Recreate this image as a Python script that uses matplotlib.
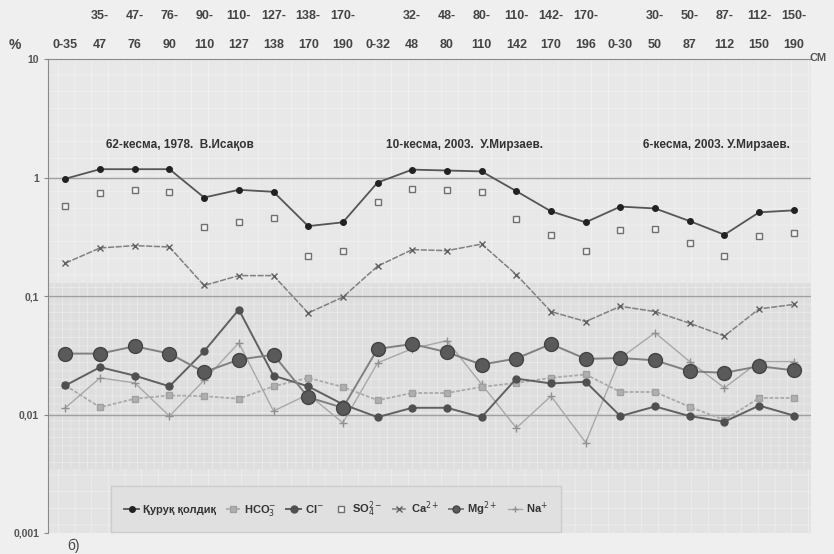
import numpy as np
import matplotlib.pyplot as plt
from matplotlib.transforms import blended_transform_factory

plt.rcParams['font.family'] = ['Liberation Sans', 'DejaVu Sans']

# глубина слоёв, см (верхняя строка / нижняя строка подписи)
depth_top = ['', '35-', '47-', '76-', '90-', '110-', '127-', '138-', '170-',
             '', '32-', '48-', '80-', '110-', '142-', '170-',
             '', '30-', '50-', '87-', '112-', '150-']
depth_bot = ['0-35', '47', '76', '90', '110', '127', '138', '170', '190',
             '0-32', '48', '80', '110', '142', '170', '196',
             '0-30', '50', '87', '112', '150', '190']

# содержание, %
quruq = [0.98, 1.18, 1.18, 1.18, 0.68, 0.79, 0.76, 0.39, 0.42, 0.91, 1.17,
         1.15, 1.13, 0.77, 0.52, 0.42, 0.57, 0.55, 0.43, 0.33, 0.51, 0.53]
hco3 = [0.0176, 0.0115, 0.0136, 0.0145, 0.0143, 0.0136, 0.0173, 0.0204, 0.0171,
        0.0132, 0.0152, 0.0152, 0.0171, 0.0185, 0.0204, 0.0218, 0.0155, 0.0155,
        0.0116, 0.0090, 0.0138, 0.0138]
cl = [0.0176, 0.0251, 0.0213, 0.0173, 0.0342, 0.0769, 0.0213, 0.0173, 0.0122,
      0.0095, 0.0114, 0.0114, 0.0095, 0.0201, 0.0183, 0.0189, 0.0097, 0.0117,
      0.0097, 0.0087, 0.0119, 0.0098]
so4 = [0.58, 0.74, 0.78, 0.76, 0.38, 0.42, 0.46, 0.22, 0.24, 0.62, 0.80,
       0.78, 0.76, 0.45, 0.33, 0.24, 0.36, 0.37, 0.28, 0.22, 0.32, 0.34]
ca = [0.19, 0.255, 0.267, 0.26, 0.123, 0.149, 0.149, 0.072, 0.098, 0.179, 0.247,
      0.242, 0.275, 0.152, 0.074, 0.061, 0.082, 0.074, 0.059, 0.046, 0.078, 0.085]
mg = [0.0327, 0.0327, 0.0377, 0.0327, 0.0228, 0.0291, 0.032, 0.014, 0.0114,
      0.0358, 0.0394, 0.0336, 0.0264, 0.0297, 0.0394, 0.0295, 0.030, 0.0287,
      0.0232, 0.0225, 0.0256, 0.0236]
na = [0.0114, 0.0204, 0.0185, 0.0097, 0.0195, 0.0403, 0.0107, 0.0148, 0.0085,
      0.0273, 0.036, 0.042, 0.018, 0.0077, 0.0143, 0.0058, 0.030, 0.049,
      0.028, 0.0168, 0.028, 0.028]

sections = ['62-кесма, 1978.  В.Исақов', '10-кесма, 2003.  У.Мирзаев.',
            '6-кесма, 2003. У.Мирзаев.']

x = np.arange(len(depth_bot))

fig = plt.figure(figsize=(8.34, 5.54), dpi=100, facecolor='#efefef')
ax = fig.add_axes([0.0576, 0.038, 0.915, 0.855])
ax.set_facecolor('#e6e6e6')
ax.set_yscale('log')
ax.set_ylim(0.001, 10)
ax.set_xlim(-0.5, 21.5)

# фон с мелкой сеткой
plt.rcParams['hatch.linewidth'] = 0.6
ax.axhspan(0.0035, 0.13, facecolor='#dedede', edgecolor='#eaeaea',
           hatch='++', lw=0, zorder=0)
ax.axhspan(0.13, 10, facecolor='#e8e8e8', edgecolor='#f1f1f1',
           hatch='+', lw=0, zorder=0)
ax.axhspan(0.001, 0.0035, facecolor='#e3e3e3', edgecolor='#eeeeee',
           hatch='+', lw=0, zorder=0)
for v in [1, 0.1, 0.01]:
    ax.axhline(v, color='#a0a0a0', lw=1.0, zorder=1)

ax.plot(x, quruq, color='#555555', lw=1.3, marker='o', ms=4,
        mfc='#222222', mec='#222222', label='Қуруқ қолдиқ', zorder=5)
ax.plot(x, hco3, color='#aaaaaa', lw=1.3, ls=(0, (2, 1)), marker='s', ms=5,
        mfc='#b0b0b0', mec='#a0a0a0', label='HCO$_3^{-}$', zorder=4)
ax.plot(x, cl, color='#606060', lw=1.4, marker='o', ms=5,
        mfc='#505050', mec='#505050', label='Cl$^{-}$', zorder=5)
ax.plot(x, so4, ls='none', marker='s', ms=5, mfc='#f2f2f2', mec='#707070',
        mew=1.0, label='SO$_4^{2-}$', zorder=5)
ax.plot(x, ca, color='#808080', lw=1.1, ls=(0, (4, 1)), marker='x', ms=5,
        mec='#606060', label='Ca$^{2+}$', zorder=4)
ax.plot(x, mg, color='#808080', lw=1.4, marker='o', ms=10,
        mfc='#5a5a5a', mec='#444444', label='Mg$^{2+}$', zorder=6)
ax.plot(x, na, color='#a8a8a8', lw=1.0, marker='+', ms=6,
        mec='#909090', label='Na$^{+}$', zorder=3)

ax.set_xticks([])
ax.minorticks_off()
ax.set_yticks([0.001, 0.01, 0.1, 1, 10])
ax.set_yticklabels(['0,001', '0,01', '0,1', '1', '10'])
ax.tick_params(axis='y', labelsize=7.5, labelcolor='#555555', length=3,
               color='#888888')
for lbl in ax.get_yticklabels():
    lbl.set_fontweight('bold')
for side in ['top', 'left']:
    ax.spines[side].set_color('#8a8a8a')
for side in ['right', 'bottom']:
    ax.spines[side].set_visible(False)

# подписи глубин сверху
tr = blended_transform_factory(ax.transData, fig.transFigure)
for i in x:
    ax.text(i, 1 - 16 / 554, depth_top[i], transform=tr, ha='center',
            va='center', fontsize=9, fontweight='bold', color='#444444')
    ax.text(i, 1 - 45 / 554, depth_bot[i], transform=tr, ha='center',
            va='center', fontsize=9, fontweight='bold', color='#444444')
fig.text(15 / 834, 1 - 45 / 554, '%', ha='center', va='center', fontsize=10,
         fontweight='bold', color='#444444')
fig.text(818 / 834, 1 - 58 / 554, 'СМ', ha='center', va='center',
         fontsize=8, fontweight='bold', color='#555555')
fig.text(73 / 834, 1 - 546 / 554, 'б)', ha='center', va='center',
         fontsize=10, color='#444444')

for cx, s in zip([180, 464, 716], sections):
    fig.text(cx / 834, 1 - 145 / 554, s, ha='center', va='center',
             fontsize=8.5, fontweight='bold', color='#333333')

leg = ax.legend(loc='center', bbox_to_anchor=(0.3775, 0.05), ncol=7,
                frameon=True, handlelength=1.3, handletextpad=0.35,
                columnspacing=0.9, borderpad=1.2, fancybox=False,
                prop={'weight': 'bold', 'size': 8})
leg.get_frame().set_facecolor('#e0e0e0')
leg.get_frame().set_edgecolor('#cccccc')
leg.get_frame().set_alpha(1)
for t in leg.get_texts():
    t.set_color('#333333')
for h in leg.legend_handles:
    h.set_markersize(min(h.get_markersize(), 5))

fig.savefig('out.png', dpi=100, facecolor=fig.get_facecolor())
